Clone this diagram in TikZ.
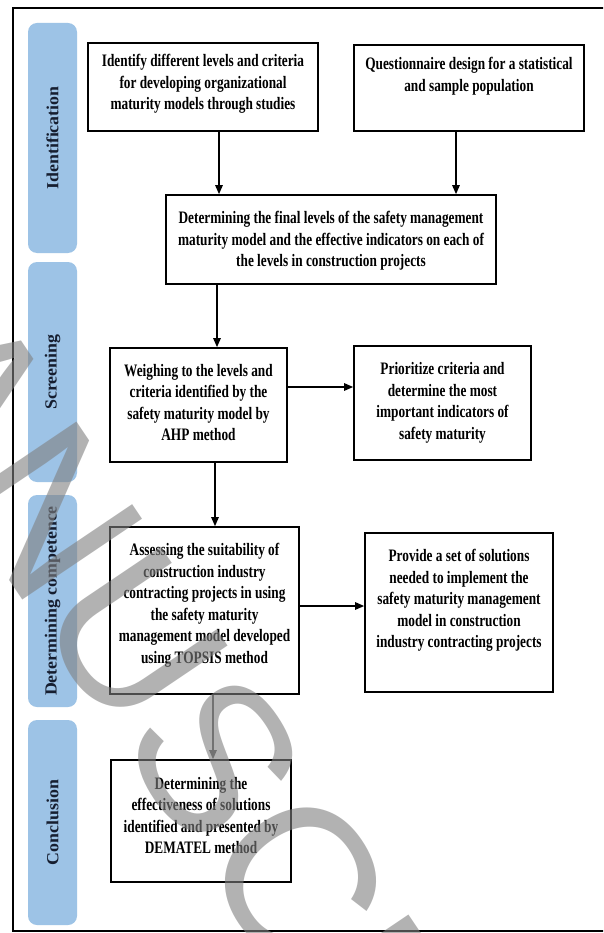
\documentclass[tikz,border=0pt]{standalone}
\usepackage{fontspec}
\setmainfont{Liberation Serif}
\newfontfamily\wmfont{Liberation Sans}
\usepackage{graphicx}
\usetikzlibrary{arrows.meta}
\definecolor{sideblue}{RGB}{157,195,230}
\definecolor{sidetext}{RGB}{22,30,48}
\definecolor{wmgray}{RGB}{128,128,128}
\definecolor{arrgray}{RGB}{95,95,95}
\newcommand\btxt[1]{\scalebox{0.76}[1]{\begin{tabular}{@{}c@{}}#1\end{tabular}}}
\newcommand\stxt[1]{\scalebox{1.05}[1]{#1}}
\begin{document}
\begin{tikzpicture}[x=1pt,y=-1pt,
  side/.style={fill=sideblue, rounded corners=9pt, rotate=90, inner sep=0pt,
    text=sidetext, font=\fontsize{17}{20}\selectfont\bfseries},
  box/.style={draw=black, line width=1.7pt, inner sep=0pt},
  btext/.style={inner sep=0pt, font=\fontsize{17.5}{21.5}\selectfont\bfseries},
  arr/.style={line width=1.3pt, -{Triangle[length=9pt,width=7.5pt]}},
  garr/.style={line width=1.2pt, draw=arrgray, -{Triangle[length=9pt,width=7.5pt,fill=arrgray]}},
  framebox/.style={draw=black, line width=1.7pt, inner sep=0pt},
  wm/.style={inner sep=0pt, anchor=base west, rotate=-56, text=wmgray, opacity=0.6,
    font=\wmfont\fontsize{210}{210}\selectfont}
]
\useasboundingbox (0,0) rectangle (603,933);
\clip (0,0) rectangle (603,933);
\fill[white] (0,0) rectangle (603,933);

% outer frame (right edge lies outside the picture)
\node[framebox, minimum width=627pt, minimum height=923pt] (frame) at (326.5,469.5) {};

% stage bars
\node[side, minimum width=230pt, minimum height=49pt] (S1) at (52.5,138) {\stxt{Identification}};
\node[side, minimum width=220pt, minimum height=49pt] (S2) at (52.5,372) {\stxt{Screening}};
\node[side, minimum width=212pt, minimum height=49pt] (S3) at (52.5,601) {\stxt{Determining competence}};
\node[side, minimum width=205pt, minimum height=49pt] (S4) at (52.5,822.5) {\stxt{Conclusion}};

% boxes
\node[box, minimum width=230pt, minimum height=88pt] (A) at (203,87) {};
\node[box, minimum width=230pt, minimum height=86pt] (B) at (469,88) {};
\node[box, minimum width=330pt, minimum height=89pt] (C) at (331,239.5) {};
\node[box, minimum width=177pt, minimum height=114pt] (D) at (198.5,405) {};
\node[box, minimum width=177pt, minimum height=114pt] (E) at (442.5,403) {};
\node[box, minimum width=189pt, minimum height=167pt] (F) at (204.5,610.5) {};
\node[box, minimum width=188pt, minimum height=159pt] (G) at (459,612.5) {};
\node[box, minimum width=180pt, minimum height=122pt] (H) at (201,821) {};

% box texts
\node[btext] (At) at (203,84) {\btxt{Identify different levels and criteria\\for developing organizational\\maturity models through studies}};
\node[btext] (Bt) at (469,76) {\btxt{Questionnaire design for a statistical\\and sample population}};
\node[btext] (Ct) at (331,241) {\btxt{Determining the final levels of the safety management\\maturity model and the effective indicators on each of\\the levels in construction projects}};
\node[btext] (Dt) at (198.5,404) {\btxt{Weighing to the levels and\\criteria identified by the\\safety maturity model by\\AHP method}};
\node[btext] (Et) at (442.5,402.5) {\btxt{Prioritize criteria and\\determine the most\\important indicators of\\safety maturity}};
\node[btext] (Ft) at (204.5,605) {\btxt{Assessing the suitability of\\construction industry\\contracting projects in using\\the safety maturity\\management model developed\\using TOPSIS method}};
\node[btext] (Gt) at (459,600.5) {\btxt{Provide a set of solutions\\needed to implement the\\safety maturity management\\model in construction\\industry contracting projects}};
\node[btext] (Ht) at (201,817) {\btxt{Determining the\\effectiveness of solutions\\identified and presented by\\DEMATEL method}};

% connector columns / rows
\coordinate (xAC) at (219,0);
\coordinate (xBC) at (456,0);
\coordinate (xCD) at (217,0);
\coordinate (xDF) at (215,0);
\coordinate (xFH) at (213,0);
\coordinate (yDE) at (0,387);
\coordinate (yFG) at (0,606);

\draw[arr] (A.south -| xAC) -- (C.north -| xAC);
\draw[arr] (B.south -| xBC) -- (C.north -| xBC);
\draw[arr] (C.south -| xCD) -- (D.north -| xCD);
\draw[arr] (D.east |- yDE) -- (E.west |- yDE);
\draw[arr] (D.south -| xDF) -- (F.north -| xDF);
\draw[arr] (F.east |- yFG) -- (G.west |- yFG);
\draw[garr] (F.south -| xFH) -- (H.north -| xFH);

% watermark
\node[wm] (wmark) at (-229,227) {MANUSCRIPT};
\end{tikzpicture}
\end{document}
